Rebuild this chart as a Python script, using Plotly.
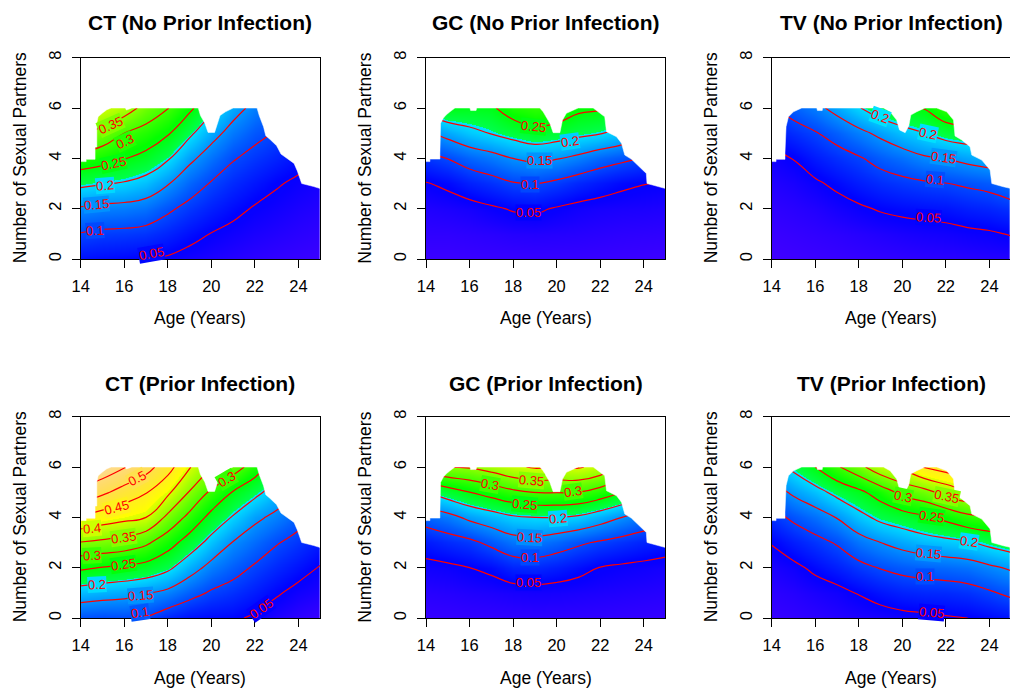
import colorsys
import plotly.graph_objects as go

# ---------------- data ----------------
ages = [14, 15, 16, 17, 18, 19, 20, 21, 22, 23, 24, 25]
partners = [0, 1, 2, 3, 4, 5, 6]

ct_noprior = {
    14: [0.062, 0.098, 0.145, 0.211, 0.282, 0.357, 0.42],
    15: [0.058, 0.092, 0.138, 0.203, 0.269, 0.333, 0.40],
    16: [0.055, 0.090, 0.135, 0.196, 0.252, 0.300, 0.375],
    17: [0.051, 0.086, 0.128, 0.182, 0.236, 0.281, 0.333],
    18: [0.046, 0.075, 0.107, 0.153, 0.205, 0.255, 0.302],
    19: [0.038, 0.061, 0.088, 0.121, 0.160, 0.209, 0.260],
    20: [0.032, 0.049, 0.072, 0.097, 0.129, 0.166, 0.210],
    21: [0.027, 0.041, 0.059, 0.080, 0.103, 0.134, 0.167],
    22: [0.022, 0.034, 0.047, 0.066, 0.088, 0.111, 0.138],
    23: [0.018, 0.029, 0.040, 0.053, 0.075, 0.097, 0.118],
    24: [0.015, 0.024, 0.033, 0.044, 0.061, 0.082, 0.104],
    25: [0.012, 0.020, 0.028, 0.037, 0.050, 0.066, 0.085],
}
gc_noprior = {
    14: [0.012, 0.020, 0.030, 0.048, 0.087, 0.143, 0.220],
    15: [0.012, 0.020, 0.033, 0.057, 0.101, 0.165, 0.246],
    16: [0.013, 0.022, 0.037, 0.073, 0.120, 0.187, 0.240],
    17: [0.014, 0.024, 0.045, 0.084, 0.133, 0.202, 0.242],
    18: [0.014, 0.027, 0.053, 0.097, 0.150, 0.218, 0.277],
    19: [0.015, 0.028, 0.056, 0.101, 0.159, 0.233, 0.290],
    20: [0.015, 0.027, 0.047, 0.091, 0.153, 0.224, 0.289],
    21: [0.015, 0.026, 0.040, 0.078, 0.139, 0.212, 0.261],
    22: [0.014, 0.024, 0.036, 0.067, 0.121, 0.203, 0.255],
    23: [0.013, 0.022, 0.034, 0.057, 0.109, 0.186, 0.240],
    24: [0.012, 0.021, 0.033, 0.051, 0.098, 0.160, 0.220],
    25: [0.011, 0.020, 0.031, 0.048, 0.092, 0.150, 0.210],
}
tv_noprior = {
    14: [0.008, 0.013, 0.020, 0.029, 0.040, 0.066, 0.097],
    15: [0.010, 0.016, 0.024, 0.035, 0.051, 0.082, 0.117],
    16: [0.012, 0.019, 0.029, 0.045, 0.069, 0.097, 0.137],
    17: [0.014, 0.022, 0.037, 0.057, 0.083, 0.116, 0.165],
    18: [0.016, 0.026, 0.045, 0.070, 0.096, 0.138, 0.197],
    19: [0.018, 0.030, 0.053, 0.081, 0.114, 0.160, 0.228],
    20: [0.020, 0.034, 0.058, 0.089, 0.128, 0.183, 0.244],
    21: [0.022, 0.037, 0.061, 0.095, 0.144, 0.199, 0.252],
    22: [0.023, 0.039, 0.064, 0.099, 0.151, 0.220, 0.290],
    23: [0.025, 0.043, 0.071, 0.106, 0.163, 0.230, 0.300],
    24: [0.027, 0.046, 0.076, 0.113, 0.173, 0.240, 0.300],
    25: [0.027, 0.052, 0.084, 0.129, 0.180, 0.240, 0.300],
}
ct_prior = {
    14: [0.106, 0.178, 0.258, 0.348, 0.445, 0.538, 0.600],
    15: [0.101, 0.171, 0.248, 0.340, 0.426, 0.510, 0.585],
    16: [0.103, 0.165, 0.241, 0.330, 0.413, 0.480, 0.553],
    17: [0.097, 0.154, 0.233, 0.309, 0.400, 0.453, 0.520],
    18: [0.076, 0.139, 0.210, 0.271, 0.339, 0.410, 0.470],
    19: [0.062, 0.115, 0.170, 0.228, 0.286, 0.347, 0.403],
    20: [0.057, 0.095, 0.136, 0.184, 0.235, 0.292, 0.350],
    21: [0.055, 0.084, 0.115, 0.148, 0.196, 0.247, 0.325],
    22: [0.045, 0.070, 0.095, 0.125, 0.160, 0.213, 0.276],
    23: [0.031, 0.054, 0.078, 0.103, 0.139, 0.178, 0.220],
    24: [0.021, 0.040, 0.063, 0.087, 0.115, 0.150, 0.190],
    25: [0.013, 0.032, 0.048, 0.070, 0.093, 0.125, 0.160],
}
gc_prior = {
    14: [0.015, 0.025, 0.040, 0.068, 0.120, 0.200, 0.335],
    15: [0.016, 0.027, 0.043, 0.080, 0.135, 0.226, 0.350],
    16: [0.017, 0.030, 0.050, 0.090, 0.160, 0.250, 0.355],
    17: [0.018, 0.032, 0.058, 0.110, 0.177, 0.270, 0.370],
    18: [0.019, 0.035, 0.075, 0.131, 0.194, 0.290, 0.392],
    19: [0.020, 0.037, 0.078, 0.134, 0.200, 0.302, 0.405],
    20: [0.020, 0.036, 0.070, 0.122, 0.201, 0.302, 0.400],
    21: [0.020, 0.034, 0.060, 0.107, 0.193, 0.300, 0.405],
    22: [0.019, 0.032, 0.049, 0.095, 0.172, 0.280, 0.385],
    23: [0.018, 0.030, 0.044, 0.085, 0.150, 0.250, 0.340],
    24: [0.017, 0.028, 0.041, 0.075, 0.130, 0.220, 0.310],
    25: [0.016, 0.026, 0.037, 0.068, 0.120, 0.200, 0.285],
}
tv_prior = {
    14: [0.015, 0.022, 0.033, 0.052, 0.085, 0.128, 0.178],
    15: [0.018, 0.027, 0.042, 0.071, 0.108, 0.158, 0.211],
    16: [0.022, 0.034, 0.057, 0.087, 0.128, 0.183, 0.250],
    17: [0.027, 0.040, 0.071, 0.104, 0.152, 0.214, 0.294],
    18: [0.031, 0.052, 0.088, 0.131, 0.185, 0.239, 0.334],
    19: [0.035, 0.064, 0.102, 0.150, 0.212, 0.272, 0.385],
    20: [0.040, 0.073, 0.112, 0.166, 0.227, 0.314, 0.410],
    21: [0.043, 0.077, 0.118, 0.179, 0.243, 0.333, 0.455],
    22: [0.047, 0.079, 0.122, 0.187, 0.262, 0.367, 0.472],
    23: [0.050, 0.084, 0.128, 0.195, 0.287, 0.390, 0.490],
    24: [0.057, 0.095, 0.142, 0.213, 0.297, 0.380, 0.460],
    25: [0.064, 0.109, 0.156, 0.228, 0.300, 0.380, 0.460],
}

ct_edge_age = [14.0, 14.25, 14.25, 14.66, 14.66, 14.74, 14.74, 14.8, 15.0, 15.2, 15.4, 16.05,
               16.1, 16.35, 19.4, 19.5, 19.7, 19.85, 20.15, 20.25, 20.4, 20.65, 21.0, 22.1,
               22.2, 22.4, 22.5, 22.7, 23.0, 23.2, 23.4, 23.8, 23.95, 24.15, 24.7, 25.0]
ct_edge_partners = [3.87, 3.87, 3.96, 3.96, 4.45, 4.45, 5.4, 5.65, 5.8, 5.93, 6.0, 6.0,
                    5.92, 6.0, 6.0, 5.7, 5.4, 5.03, 5.03, 5.3, 5.7, 5.85, 6.0, 6.0,
                    5.7, 5.25, 4.9, 4.75, 4.5, 4.17, 4.05, 3.8, 3.5, 3.0, 2.88, 2.8]
gc_edge_age = [14.0, 14.18, 14.18, 14.64, 14.64, 14.67, 14.8, 14.92, 15.1, 15.33, 16.02, 16.05,
               16.3, 16.33, 19.23, 19.38, 19.69, 19.84, 20.15, 20.27, 20.45, 20.99, 21.68, 21.9,
               22.21, 22.29, 22.75, 22.98, 23.13, 23.43, 23.89, 24.12, 24.15, 24.66, 25.0]
gc_edge_partners = [3.87, 3.87, 3.97, 3.97, 4.2, 5.39, 5.6, 5.72, 5.85, 6.0, 6.0, 5.9,
                    5.9, 6.0, 6.0, 5.85, 5.39, 5.02, 5.02, 5.52, 5.79, 6.0, 6.0, 5.85,
                    5.65, 5.06, 4.86, 4.6, 4.13, 3.97, 3.6, 3.4, 3.0, 2.87, 2.8]
tv_edge_age = [14.0, 14.2, 14.2, 14.61, 14.61, 14.66, 14.77, 15.0, 15.38, 16.07, 16.1, 16.32,
               16.34, 19.13, 19.44, 19.74, 19.87, 20.13, 20.3, 20.39, 20.66, 21.04, 21.58, 22.04,
               22.35, 22.42, 22.73, 23.11, 23.19, 23.65, 24.03, 24.11, 24.64, 25.0]
tv_edge_partners = [3.87, 3.87, 3.96, 3.96, 4.2, 5.26, 5.65, 5.85, 6.0, 6.0, 5.9, 5.9,
                    6.0, 6.0, 5.85, 5.52, 5.13, 5.02, 5.3, 5.72, 5.85, 6.0, 6.0, 5.85,
                    5.52, 4.89, 4.73, 4.46, 4.13, 3.93, 3.54, 3.0, 2.87, 2.8]

# contour labels as placed in the reference: (level, age, partners, angle in degrees)
ct_noprior_labels = [(0.35, 15.35, 5.32, -24), (0.3, 16.04, 4.66, -25), (0.25, 15.5, 3.8, -12),
                     (0.2, 15.12, 2.94, -5), (0.15, 14.74, 2.15, -5), (0.1, 14.66, 1.15, -3),
                     (0.05, 17.26, 0.2, -10)]
gc_noprior_labels = [(0.25, 18.95, 5.26, 6), (0.2, 20.6, 4.66, -8), (0.15, 19.2, 3.9, 0),
                     (0.1, 18.77, 2.98, 0), (0.05, 18.7, 1.85, 0)]
tv_noprior_labels = [(0.2, 18.98, 5.66, 20), (0.2, 21.2, 4.99, 12), (0.15, 21.9, 4.04, 8),
                     (0.1, 21.5, 3.14, 5), (0.05, 21.2, 1.66, 3)]
ct_prior_labels = [(0.5, 16.57, 5.56, -28), (0.45, 15.65, 4.4, -15), (0.4, 14.5, 3.57, -5),
                   (0.35, 15.96, 3.21, -8), (0.3, 14.5, 2.49, -3), (0.3, 20.7, 5.49, -30),
                   (0.25, 15.96, 2.12, -8), (0.2, 14.74, 1.35, -3), (0.15, 16.73, 0.9, -4),
                   (0.1, 16.73, 0.2, -8), (0.05, 22.32, 0.36, -35)]
gc_prior_labels = [(0.35, 18.85, 5.48, 5), (0.3, 16.94, 5.32, 10), (0.3, 20.75, 5.01, -8),
                   (0.25, 18.54, 4.5, 5), (0.2, 20.07, 3.94, -5), (0.15, 18.77, 3.21, 3),
                   (0.1, 18.77, 2.41, 0), (0.05, 18.69, 1.43, 0)]
tv_prior_labels = [(0.35, 22.04, 4.81, 12), (0.3, 20.05, 4.81, 12), (0.25, 21.35, 4.02, 8),
                   (0.2, 23.04, 3.04, 8), (0.15, 21.2, 2.58, 5), (0.1, 21.04, 1.65, 0),
                   (0.05, 21.35, 0.2, 5)]

titles = ["CT (No Prior Infection)", "GC (No Prior Infection)", "TV (No Prior Infection)",
          "CT (Prior Infection)", "GC (Prior Infection)", "TV (Prior Infection)"]
surfaces = [ct_noprior, gc_noprior, tv_noprior, ct_prior, gc_prior, tv_prior]
panel_labels = [ct_noprior_labels, gc_noprior_labels, tv_noprior_labels,
                ct_prior_labels, gc_prior_labels, tv_prior_labels]
edges = [(ct_edge_age, ct_edge_partners), (gc_edge_age, gc_edge_partners),
         (tv_edge_age, tv_edge_partners)] * 2
x_ticks = [14, 16, 18, 20, 22, 24]
y_ticks = [0, 2, 4, 6, 8]
z_low, z_high = 0.0, 0.62


# ---------------- topo.colors-like colour scale ----------------
def topo_rgb(p):
    p = max(0.0, min(1.0, p))
    if p <= 1 / 3:
        t = p * 3
        h, s = (43 - 12 * t) / 60, 1.0
    elif p <= 2 / 3:
        t = (p - 1 / 3) * 3
        h, s = (23 - 12 * t) / 60, 1.0
    else:
        t = (p - 2 / 3) * 3
        h, s = (10 - 4 * t) / 60, 1 - 0.7 * t
    r, g, b = colorsys.hsv_to_rgb(h, s, 1.0)
    return "#%02x%02x%02x" % (round(r * 255), round(g * 255), round(b * 255))


def topo_scale(m=24):
    stops = []
    for sec in range(3):
        lo = sec / 3 + (1e-4 if sec else 0.0)
        hi = (sec + 1) / 3
        for k in range(m):
            p = lo + (hi - lo) * k / (m - 1)
            stops.append([min(p, 1.0), topo_rgb(p)])
    stops[-1][0] = 1.0
    return stops


def local_value(surf, x, y):
    """value of the surface under a label (same bilinear blend the heatmap uses)"""
    i = max(0, min(len(ages) - 2, int(x - ages[0])))
    j = max(0, min(len(partners) - 2, int(y)))
    fx = (x - ages[i]) / (ages[i + 1] - ages[i])
    fy = (y - partners[j]) / (partners[j + 1] - partners[j])
    z00, z10 = surf[ages[i]][j], surf[ages[i + 1]][j]
    z01, z11 = surf[ages[i]][j + 1], surf[ages[i + 1]][j + 1]
    return (z00 * (1 - fx) * (1 - fy) + z10 * fx * (1 - fy)
            + z01 * (1 - fx) * fy + z11 * fx * fy)


colorscale = topo_scale()

# ---------------- layout geometry ----------------
W, H = 1010, 690
col_left = [80.7, 426.0, 771.7]
px_per_age = 21.77
row_bottom = [259.0, 618.0]
row_top = [57.7, 416.7]
font_family = "Liberation Sans, Arial, Helvetica, sans-serif"

fig = go.Figure()
annotations = []
layout_axes = {}

for idx in range(6):
    r, c = divmod(idx, 3)
    n = idx + 1
    xname = "x" if n == 1 else f"x{n}"
    yname = "y" if n == 1 else f"y{n}"
    surf = surfaces[idx]
    z = [[surf[a][j] for a in ages] for j in range(len(partners))]

    fig.add_trace(go.Contour(
        x=ages, y=partners, z=z, xaxis=xname, yaxis=yname,
        zmin=z_low, zmax=z_high, colorscale=colorscale, showscale=False,
        autocontour=False,
        contours=dict(start=0.05, end=0.6, size=0.05, coloring="heatmap", showlabels=False),
        line=dict(color="red", width=1.2, smoothing=1.3),
        hoverinfo="skip",
    ))
    ex, ey = edges[idx]
    mx = [13.8] + list(ex) + [25.3, 25.3, 13.8]
    my = [ey[0]] + list(ey) + [ey[-1], 8.5, 8.5]
    fig.add_trace(go.Scatter(
        x=mx, y=my, xaxis=xname, yaxis=yname, mode="lines", fill="toself",
        fillcolor="white", line=dict(color="white", width=0.5), hoverinfo="skip",
        showlegend=False,
    ))

    for lev, lx, ly, ang in panel_labels[idx]:
        bg = topo_rgb((local_value(surf, lx, ly) - z_low) / (z_high - z_low))
        annotations.append(dict(
            text=("%g" % lev), x=lx, y=ly, xref=xname, yref=yname, showarrow=False,
            textangle=ang, bgcolor=bg, borderpad=0,
            font=dict(size=13, family=font_family, color="red"),
            xanchor="center", yanchor="middle"))

    left = col_left[c]
    right = left + 11 * px_per_age
    x_end = 25.0
    if right > W:
        x_end = 14 + (W - left) / px_per_age
        right = W
    xdom = [left / W, right / W]
    ydom = [1 - row_bottom[r] / H, 1 - row_top[r] / H]
    axkey = "" if n == 1 else str(n)
    common = dict(showline=True, linecolor="black", linewidth=1, mirror=True,
                  ticks="outside", ticklen=8, tickwidth=1, tickcolor="black",
                  showgrid=False, zeroline=False, fixedrange=True,
                  tickfont=dict(size=16.5, family=font_family, color="black"))
    layout_axes["xaxis" + axkey] = dict(domain=xdom, range=[14, x_end], anchor=yname,
                                        tickvals=x_ticks, ticklabelstandoff=4, **common)
    layout_axes["yaxis" + axkey] = dict(domain=ydom, range=[0, 8], anchor=xname,
                                        tickvals=y_ticks, tickangle=-90,
                                        ticklabelstandoff=4, **common)

    cx = (left + col_left[c] + 11 * px_per_age) / 2 / W
    annotations.append(dict(text="<b>" + titles[idx] + "</b>", x=cx, y=1 - (23 + 360 * r) / H,
                            xref="paper", yref="paper", showarrow=False,
                            font=dict(size=21, family=font_family, color="black"),
                            xanchor="center", yanchor="middle"))
    annotations.append(dict(text="Age (Years)", x=cx, y=1 - (318 + 360 * r) / H,
                            xref="paper", yref="paper", showarrow=False,
                            font=dict(size=17.5, family=font_family, color="black"),
                            xanchor="center", yanchor="middle"))
    annotations.append(dict(text="Number of Sexual Partners", x=(left - 60.7) / W,
                            y=1 - ((row_bottom[r] + row_top[r]) / 2) / H,
                            xref="paper", yref="paper", showarrow=False, textangle=-90,
                            font=dict(size=17.5, family=font_family, color="black"),
                            xanchor="center", yanchor="middle"))

fig.update_layout(
    width=W, height=H, margin=dict(l=0, r=0, t=0, b=0, pad=0, autoexpand=False),
    paper_bgcolor="white", plot_bgcolor="white", showlegend=False,
    annotations=annotations, **layout_axes,
)
fig.write_html("out.html", config={"displayModeBar": False},
               post_script="document.body.style.margin='0px';")
